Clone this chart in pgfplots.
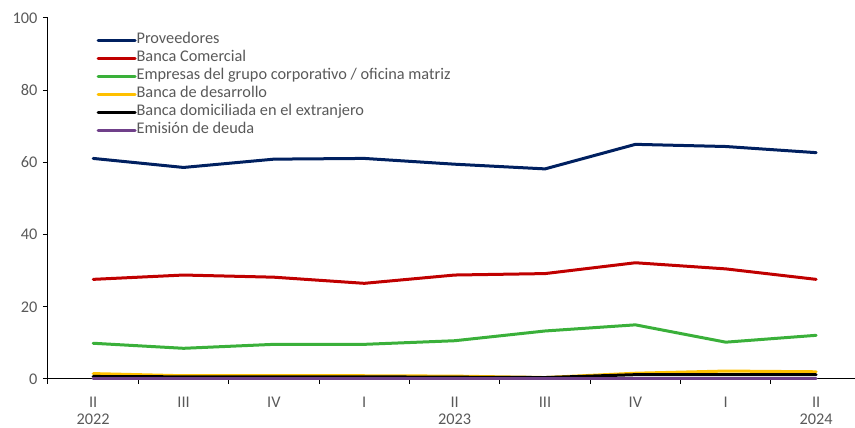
\documentclass[border=0pt]{standalone}
\usepackage{pgfplots}
\pgfplotsset{compat=1.18}
\usepackage{fontspec}
\setmainfont{Carlito}
\definecolor{cnavy}{HTML}{002060}
\definecolor{cred}{HTML}{C00000}
\definecolor{cgreen}{HTML}{3AB03A}
\definecolor{cyellow}{HTML}{FFC000}
\definecolor{cpurple}{HTML}{70408A}
\definecolor{ctext}{HTML}{595959}
\begin{document}
\begin{tikzpicture}[x=1pt,y=1pt]
\useasboundingbox (-48,-49) rectangle (807,379);
\begin{axis}[
  at={(0,0)}, anchor=south west,
  scale only axis, width=807pt, height=361pt,
  xmin=-0.5, xmax=8.43, ymin=0, ymax=100,
  axis x line=bottom, axis y line=left,
  axis line style={black, line width=1pt, -},
  xtick={0,...,8},
  xticklabels={{II\\2022},III,IV,I,{II\\2023},III,IV,I,{II\\2024}},
  xticklabel style={align=center, text=ctext, font=\fontsize{16.3}{16.5}\selectfont, yshift=-10pt},
  major x tick style={draw=none},
  minor xtick={-0.5,0.5,...,7.5},
  minor tick length=5pt,
  minor x tick style={black, line width=1pt},
  ytick={0,20,...,100},
  major tick length=5pt,
  y tick style={black, line width=1pt},
  tick align=outside,
  yticklabel style={text=ctext, font=\fontsize{16.3}{18}\selectfont, xshift=-2pt},
  /pgf/number format/assume math mode=true,
  legend style={at={(0.06,0.963)}, anchor=north west, draw=none, fill=none,
    font=\fontsize{16.3}{18}\selectfont, text=ctext, row sep=0pt, inner sep=0pt,
    nodes={inner sep=0pt, text height=12pt, text depth=6pt}},
  legend cell align=left,
  legend image code/.code={\draw[#1, line width=3pt] (0pt,0pt) -- (37pt,0pt);},
  every axis plot/.append style={line width=3pt, line join=round, line cap=round, mark=none},
  clip=false,
]
\addplot[cnavy] coordinates {(0,61.1) (1,58.6) (2,60.9) (3,61.1) (4,59.5) (5,58.2) (6,65.0) (7,64.4) (8,62.7)};
\addlegendentry{Proveedores}
\addplot[cred] coordinates {(0,27.6) (1,28.8) (2,28.2) (3,26.5) (4,28.8) (5,29.2) (6,32.2) (7,30.5) (8,27.6)};
\addlegendentry{Banca Comercial}
\addplot[cgreen] coordinates {(0,9.9) (1,8.5) (2,9.6) (3,9.6) (4,10.6) (5,13.3) (6,15.0) (7,10.2) (8,12.1)};
\addlegendentry{Empresas del grupo corporativo / oficina matriz}
\addplot[cyellow] coordinates {(0,1.5) (1,0.9) (2,0.9) (3,0.9) (4,0.8) (5,0.4) (6,1.6) (7,2.2) (8,2.0)};
\addlegendentry{Banca de desarrollo}
\addplot[black] coordinates {(0,0.7) (1,0.6) (2,0.6) (3,0.6) (4,0.5) (5,0.4) (6,1.2) (7,1.2) (8,1.2)};
\addlegendentry{Banca domiciliada en el extranjero}
\addplot[cpurple] coordinates {(0,0.1) (1,0.1) (2,0.1) (3,0.1) (4,0.1) (5,0.1) (6,0.1) (7,0.1) (8,0.1)};
\addlegendentry{Emisión de deuda}
\end{axis}
\end{tikzpicture}
\end{document}
